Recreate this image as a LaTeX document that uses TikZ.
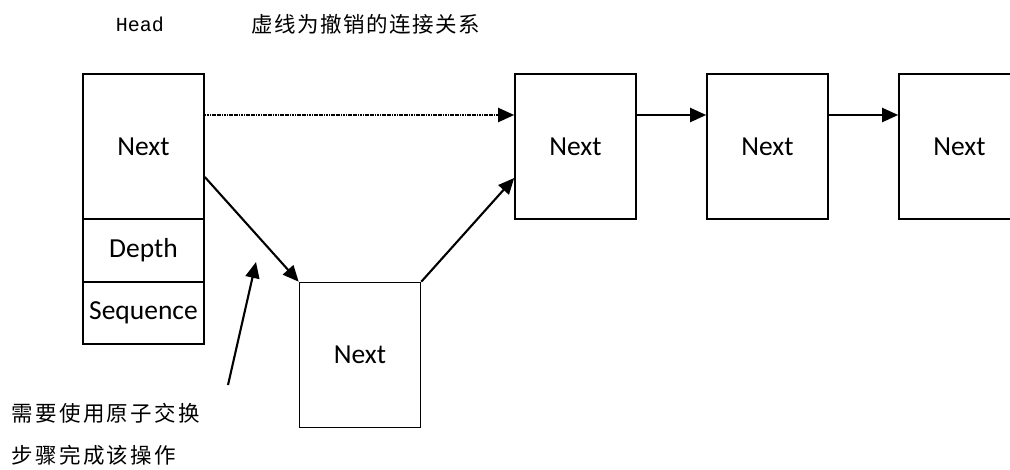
\documentclass[tikz,border=0pt]{standalone}
\usepackage{fontspec}
\setmainfont{Carlito}
\newfontfamily\cjk[LetterSpace=7]{Noto Sans CJK SC}
\newfontfamily\cjkb[LetterSpace=11]{Noto Sans CJK SC}
\newfontfamily\monof{Liberation Mono}
\usetikzlibrary{arrows.meta,calc}
\begin{document}
\begin{tikzpicture}[x=1pt,y=-1pt,
  box/.style={draw,line width=1.6pt,inner sep=0pt,minimum width=121pt,font=\fontsize{27.5}{30}\selectfont},
  nextbox/.style={box,minimum height=145pt},
  link/.style={line width=2.1pt,-{Triangle[length=16pt,width=14pt]}},
  undo/.style={link,dash pattern=on 1.2pt off 0.5pt}]
\useasboundingbox (0,0) rectangle (1010,469);
\node[nextbox] (head) at (143.5,146.5) {Next};
\node[box,minimum height=63pt] (depth) at (143.5,250.5) {Depth};
\node[box,minimum height=62pt] (seq) at (143.5,313) {Sequence};
\node[nextbox] (n1) at (575.5,146.5) {Next};
\node[nextbox] (n2) at (767.5,146.5) {Next};
\node[nextbox] (n3) at (959.5,146.5) {Next};
\node[nextbox] (nb) at (360,355) {Next};
\node[font=\monof\fontsize{20}{22}\selectfont] (headlbl) at (140,24) {Head};
\node[font=\cjk\fontsize{21.5}{24}\selectfont] (title) at (366,24) {虚线为撤销的连接关系};
\node[font=\cjkb\fontsize{21.5}{24}\selectfont,anchor=west] (note1) at (8,413) {需要使用原子交换};
\node[font=\cjkb\fontsize{21.5}{24}\selectfont,anchor=west] (note2) at (8,455) {步骤完成该操作};
\draw[undo] ([yshift=31.5pt]head.east) -- ([yshift=31.5pt]n1.west);
\draw[link] ([yshift=31.5pt]n1.east) -- ([yshift=31.5pt]n2.west);
\draw[link] ([yshift=31.5pt]n2.east) -- ([yshift=31.5pt]n3.west);
\draw[link] ([yshift=-30.5pt]head.east) -- (nb.north west);
\draw[link] (nb.north east) -- ([yshift=-31.5pt]n1.west);
\coordinate (ps) at (228,385);
\coordinate (pe) at (256,262);
\draw[link] (ps) -- (pe);
\end{tikzpicture}
\end{document}
